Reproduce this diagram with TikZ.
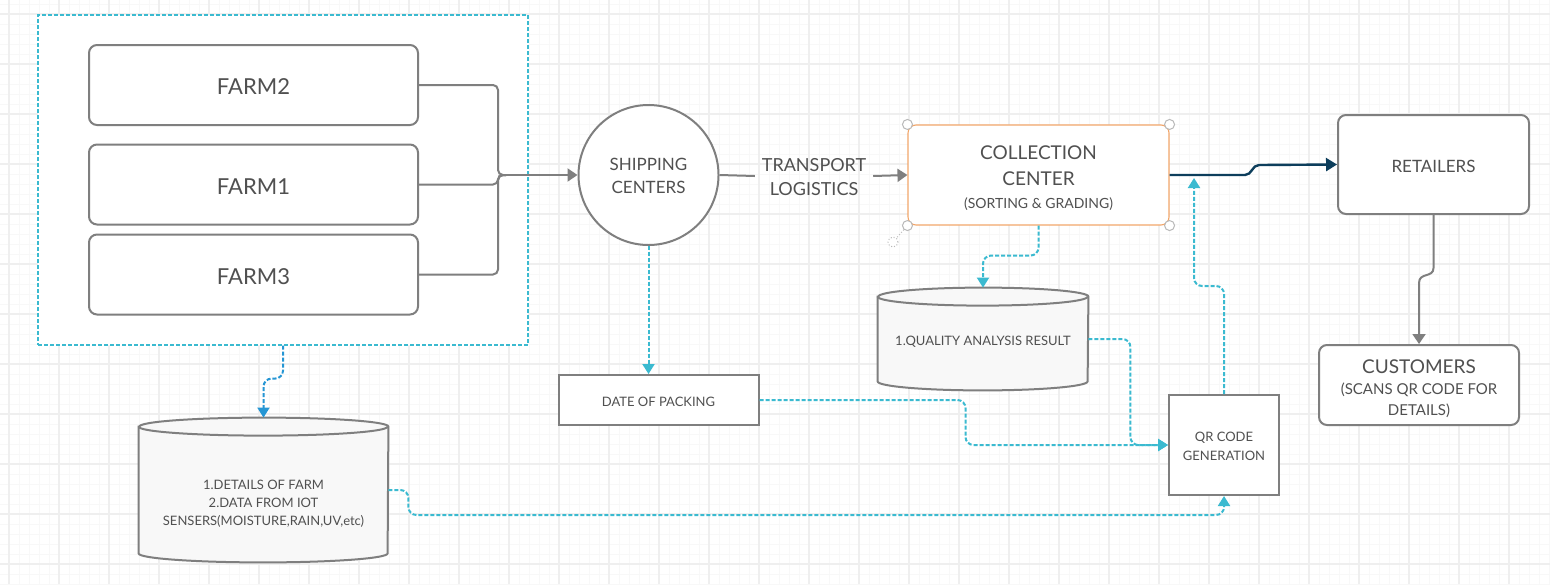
\documentclass[tikz,border=0pt]{standalone}
\usepackage{fontspec}
\setmainfont{Lato}
\usepackage{tikz}
\usetikzlibrary{arrows.meta, calc, backgrounds}
\definecolor{gridmajor}{HTML}{EFEFEF}
\definecolor{gridminor}{HTML}{F8F8F8}
\definecolor{boxgray}{HTML}{7F7F7F}
\definecolor{textgray}{HTML}{505050}
\definecolor{linkcyan}{HTML}{3BBAD0}
\definecolor{linkblue}{HTML}{2596D4}
\definecolor{navyline}{HTML}{0D3E5C}
\definecolor{selorange}{HTML}{F2A66A}
\definecolor{dbfill}{HTML}{F8F8F8}

\newcommand{\fsz}[2]{\fontsize{#1}{#2}\selectfont}
% outline of a database cylinder round a named node
\newcommand{\dbbody}[2]{%
  \path[dbline] ($(#1.north west)+(0,9)$) -- ($(#1.south west)+(0,-9)$)
    arc[start angle=180, end angle=360, x radius=#2, y radius=4.5pt]
    -- ($(#1.north east)+(0,9)$)
    arc[start angle=0, end angle=180, x radius=#2, y radius=4.5pt] -- cycle;
  \draw[dbline, fill=none] ($(#1.north west)+(0,9)$)
    arc[start angle=180, end angle=360, x radius=#2, y radius=4.5pt];}

\begin{document}
\begin{tikzpicture}[
    x=0.5pt, y=-0.5pt,
    farm/.style={rectangle, rounded corners=4pt, draw=boxgray, line width=1pt, fill=white, minimum width=164.5pt, minimum height=40pt, font=\fsz{11}{13}, text=textgray, text height=0.95em, text depth=0pt},
    farmframe/.style={rectangle, draw=linkcyan, fill=white, line width=0.6pt, dash pattern=on 2pt off 1pt, minimum width=245pt, minimum height=165pt},
    rbox/.style={rectangle, rounded corners=4pt, draw=boxgray, line width=1pt, fill=white, align=center, text=textgray},
    plainbox/.style={rectangle, draw=boxgray, line width=1pt, fill=white, align=center, text=textgray, font=\fsz{6.5}{9.5}},
    dbnode/.style={rectangle, inner sep=0pt, align=center, text=textgray, font=\fsz{6.5}{9}},
    dbline/.style={draw=boxgray, line width=1pt, fill=dbfill},
    flow/.style={draw=boxgray, line width=1pt},
    tipgray/.style={-{Triangle[length=5pt,width=6.5pt]}},
    datalink/.style={draw=linkcyan, line width=1pt, dash pattern=on 2pt off 1pt, rounded corners=4pt, -{Triangle[length=5pt,width=6pt]}},
    handle/.style={circle, draw=gray!55, fill=white, line width=0.5pt, minimum size=5pt, inner sep=0pt}
]
\useasboundingbox (0,0) rectangle (1550,584);
\begin{scope}[on background layer]
  \fill[white] (0,0) rectangle (1550,584);
  \foreach \gx in {-1,9,...,1549} \draw[gridminor, line width=0.5pt] (\gx,0) -- (\gx,584);
  \foreach \gy in {4,14,...,584} \draw[gridminor, line width=0.5pt] (0,\gy) -- (1550,\gy);
  \foreach \gx in {9,59,...,1509} \draw[gridmajor, line width=1pt] (\gx,0) -- (\gx,584);
  \foreach \gy in {14,64,...,564} \draw[gridmajor, line width=1pt] (0,\gy) -- (1550,\gy);
\end{scope}

% farms
\node[farmframe] (farms) at (283,180) {};
\node[farm] (farm2) at (253.5,85) {FARM2};
\node[farm] (farm1) at (253.5,184.5) {FARM1};
\node[farm] (farm3) at (253.5,274.5) {FARM3};

% main chain
\node[circle, draw=boxgray, line width=1pt, fill=white, minimum size=70pt, align=center, font=\fsz{8.5}{11.5}, text=textgray] (ship) at (648.5,175) {\rule{0pt}{7.5pt}SHIPPING\\CENTERS};
\node[font=\fsz{9}{12}, text=textgray, align=center] (transport) at (814,176) {\rule{0pt}{7.5pt}TRANSPORT\\LOGISTICS};
\node[rbox, draw=selorange, line width=0.55pt, minimum width=130.5pt, minimum height=50pt, font=\fsz{9.5}{13}] (coll) at (1038.5,175) {\rule{0pt}{10pt}COLLECTION\\CENTER\\[-1.5pt]{\fsz{7}{11}(SORTING \& GRADING)}};
\node[rbox, minimum width=95.5pt, minimum height=49.5pt, font=\fsz{8.5}{11}] (retail) at (1433.5,164.5) {\rule{0pt}{8.1pt}RETAILERS};
\node[rbox, minimum width=100pt, minimum height=40pt, font=\fsz{9.5}{11}] (cust) at (1419,385) {\rule{0pt}{10.5pt}CUSTOMERS\\[-0.5pt]{\fsz{7.5}{10}(SCANS QR CODE FOR}\\[-0.5pt]{\fsz{7.5}{10}DETAILS)}};

% selection handles
\node[handle] (hnw) at (coll.north west) {};
\node[handle] (hne) at (coll.north east) {};
\node[handle] (hsw) at (coll.south west) {};
\node[handle] (hse) at (coll.south east) {};
\node[handle, densely dotted] (hrot) at (893,242) {};
\draw[gray!50, densely dotted, line width=0.5pt] (hsw) -- (hrot);

% data stores
\node[plainbox, minimum width=100pt, minimum height=25pt] (pack) at (658.5,400) {\rule{0pt}{6.7pt}DATE OF PACKING};
\node[plainbox, minimum width=55pt, minimum height=50pt] (qr) at (1224,445) {\rule{0pt}{6.5pt}QR CODE\\GENERATION};
\node[dbnode, minimum width=105pt, minimum height=51pt] (qualdb) at (983,339) {\rule{0pt}{7.7pt}1.QUALITY ANALYSIS RESULT};
\node[dbnode, minimum width=124.5pt, minimum height=72pt] (farmdb) at (263.5,490) {\raisebox{-8.5pt}[0pt][0pt]{\begin{tabular}{@{}c@{}}1.DETAILS OF FARM\\2.DATA FROM IOT\\SENSERS(MOISTURE,RAIN,UV,etc)\end{tabular}}};
\begin{scope}[on background layer]
  \dbbody{qualdb}{52.5pt}
  \dbbody{farmdb}{62.25pt}
\end{scope}

% flows
\coordinate (farmjoin) at (506,175);
\draw[flow, rounded corners=2.5pt] (farm2.east) -| (498,175) -- (farmjoin);
\draw[flow, rounded corners=2.5pt] (farm1.east) -| (498,175) -- (farmjoin);
\draw[flow, rounded corners=2.5pt] (farm3.east) -| (498,175) -- (farmjoin);
\draw[flow, tipgray] (farmjoin) -- (ship.west);
\draw[flow] (ship.east) -- (transport.west);
\draw[flow, tipgray] (transport.east) -- (coll.west);
\draw[navyline, line width=1.2pt, -{Triangle[length=5.5pt,width=6.5pt]}] (coll.east) -- (1245,175) .. controls (1252,175) and (1252,165) .. (1259,165) -- (retail.west);
\draw[flow, tipgray] (retail.south) -- (1433.5,268) .. controls (1433.5,278) and (1419,272) .. (1419,283) -- (cust.north);

% data links
\draw[datalink, draw=linkblue] (farms.south) -- ++(0,33) -| (farmdb.north);
\draw[datalink] (ship.south) -- (ship.south |- pack.north);
\draw[datalink] (coll.south) -- ++(0,30) -| (qualdb.north);
\draw[datalink] (pack.east) -- ++(206,0) |- (qr.west);
\draw[datalink] (qualdb.east) -- ++(42,0) |- (qr.west);
\draw[datalink] (farmdb.east) -- ++(20,0) -- ++(0,25) -| (qr.south);
\coordinate (qrtip) at (1194,178);
\draw[datalink] (qr.north) -- ++(0,-108) -| (qrtip);
\end{tikzpicture}
\end{document}
